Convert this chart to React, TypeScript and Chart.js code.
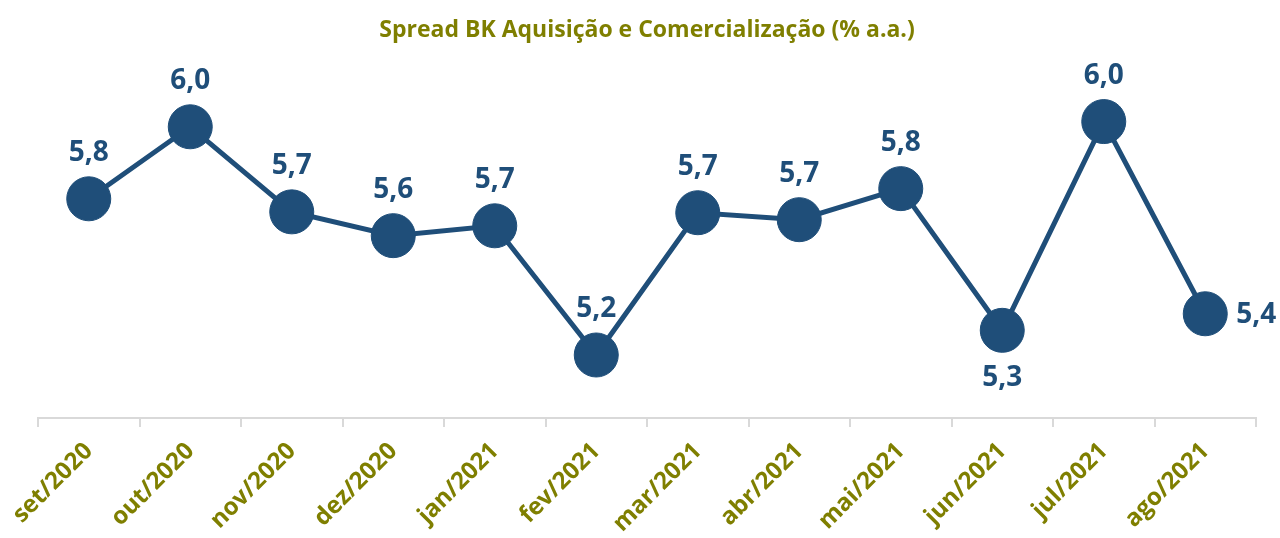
import React, { useEffect, useRef } from "react";
import { Chart, registerables } from "chart.js";

Chart.register(...registerables);

const categories = ["set/2020", "out/2020", "nov/2020", "dez/2020", "jan/2021", "fev/2021", "mar/2021", "abr/2021", "mai/2021", "jun/2021", "jul/2021", "ago/2021"];
const spreadValues = [5.755, 6.003, 5.71, 5.628, 5.662, 5.217, 5.707, 5.683, 5.79, 5.302, 6.021, 5.359];
const labelPositions = ["top", "top", "top", "top", "top", "top", "top", "top", "top", "bottom", "top", "right"];
const chartTitle = "Spread BK Aquisição e Comercialização (% a.a.)";

const NAVY = "#1f4e79";
const OLIVE = "#7f7f00";
const FONT = "'Open Sans', sans-serif";

const dataLabelPlugin = {
  id: "dataLabels",
  afterDatasetsDraw(chart: any) {
    const ctx = chart.ctx;
    const meta = chart.getDatasetMeta(0);
    ctx.save();
    ctx.font = `bold 28px ${FONT}`;
    ctx.fillStyle = NAVY;
    meta.data.forEach((pt: any, i: number) => {
      const v = spreadValues[i];
      const txt = v.toFixed(1).replace(".", ",");
      const pos = labelPositions[i];
      if (pos === "top") {
        ctx.textAlign = "center";
        ctx.textBaseline = "middle";
        ctx.fillText(txt, pt.x, pt.y - 46);
      } else if (pos === "bottom") {
        ctx.textAlign = "center";
        ctx.textBaseline = "middle";
        ctx.fillText(txt, pt.x, pt.y + 48);
      } else {
        ctx.textAlign = "left";
        ctx.textBaseline = "middle";
        ctx.fillText(txt, pt.x + 31, pt.y + 1);
      }
    });
    ctx.restore();
  },
};

export default function App() {
  const ref = useRef<HTMLCanvasElement>(null);
  useEffect(() => {
    if (!ref.current) return;
    const chart = new Chart(ref.current, {
      type: "line",
      data: {
        labels: categories,
        datasets: [
          {
            data: spreadValues,
            borderColor: NAVY,
            backgroundColor: NAVY,
            borderWidth: 5,
            pointRadius: 22,
            pointHoverRadius: 22,
            pointBackgroundColor: NAVY,
            pointBorderColor: NAVY,
            pointBorderWidth: 1,
            tension: 0,
            clip: false as any,
          },
        ],
      },
      options: {
        animation: false,
        responsive: true,
        maintainAspectRatio: false,
        layout: { padding: { left: 38, right: 24, top: 0, bottom: 0 } },
        plugins: {
          legend: { display: false },
          tooltip: { enabled: false },
          title: {
            display: true,
            text: chartTitle,
            color: OLIVE,
            font: { family: FONT, size: 23, weight: "bold", lineHeight: 1.2 },
            padding: { top: 17, bottom: 25 },
          },
        },
        scales: {
          x: {
            offset: true,
            grid: {
              display: true,
              offset: true,
              drawOnChartArea: false,
              drawTicks: true,
              tickLength: 9,
              color: "#d9d9d9",
              lineWidth: 2,
            },
            border: { display: true, color: "#d9d9d9", width: 2 },
            ticks: {
              color: OLIVE,
              font: { family: FONT, size: 24, weight: "bold" },
              maxRotation: 45,
              minRotation: 45,
              padding: 10,
              autoSkip: false,
            },
            afterFit(scale: any) {
              scale.height = 120;
            },
          },
          y: {
            display: false,
            min: 5.0,
            max: 6.2,
          },
        },
      },
      plugins: [dataLabelPlugin],
    });
    return () => chart.destroy();
  }, []);
  return (
    <div style={{ position: "fixed", left: 0, top: 0, width: 1280, height: 538, background: "#fff" }}>
      <canvas ref={ref} />
    </div>
  );
}
